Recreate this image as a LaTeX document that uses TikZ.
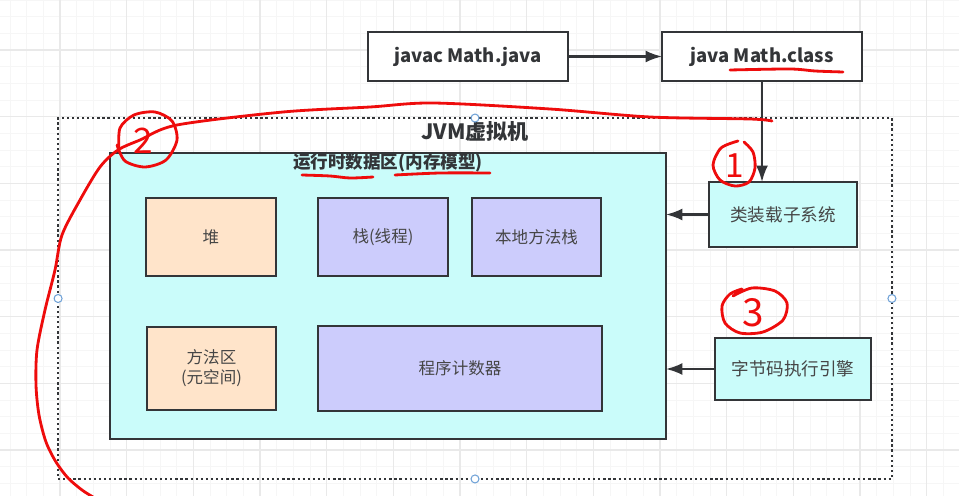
\documentclass[tikz,border=0pt]{standalone}
\usepackage{fontspec}
\setmainfont{Noto Sans CJK SC}
\usetikzlibrary{arrows.meta,calc}
\definecolor{Ink}{RGB}{51,53,56}
\definecolor{TextGray}{RGB}{70,70,70}
\definecolor{SoftCyan}{RGB}{202,252,250}
\definecolor{SoftPeach}{RGB}{255,228,202}
\definecolor{SoftLilac}{RGB}{204,204,252}
\definecolor{Marker}{RGB}{238,12,12}
\definecolor{GridMajor}{RGB}{233,233,233}
\definecolor{GridMinor}{RGB}{246,246,246}
\definecolor{Handle}{RGB}{112,162,215}
\tikzset{
  >=Latex,
  box/.style={draw=Ink,line width=1.1pt,inner sep=0pt,outer sep=0pt,align=center,text=TextGray,font=\fontsize{9.4}{11.5}\selectfont},
  cmd/.style={box,fill=white,text=Ink,font=\bfseries\fontsize{10.5}{12}\selectfont,minimum width=4cm,minimum height=.98cm},
  subsys/.style={box,fill=SoftCyan,font=\fontsize{10}{12}\selectfont},
  area/.style={box,fill=SoftCyan},
  shared/.style={box,fill=SoftPeach},
  private/.style={box,fill=SoftLilac},
  frame/.style={draw=Ink,line width=1.3pt,dash pattern=on 1.3pt off 1.6pt,inner sep=0pt,outer sep=0pt,minimum width=16.68cm,minimum height=7.22cm},
  heading/.style={font=\bfseries\fontsize{10}{12}\selectfont,text=Ink},
  handle/.style={circle,draw=Handle,fill=white,line width=.6pt,minimum size=.16cm,inner sep=0pt},
  link/.style={-{Latex[length=3.3mm,width=2.4mm]},line width=1.2pt,draw=Ink},
  scribble/.style={draw=Marker,line width=1.6pt,line cap=round,line join=round},
  scrawl/.style={text=Marker,inner sep=0pt,font=\fontsize{20}{20}\selectfont},
  gridminor/.style={draw=GridMinor,line width=.4pt},
  gridmajor/.style={draw=GridMajor,line width=.6pt}
}
\begin{document}
\begin{tikzpicture}[x=.02cm,y=-.02cm]
  \useasboundingbox (0,0) rectangle (959,496);
  \foreach \k in {0,...,57}{\draw[gridminor] ({10+\k*16.667},0)--({10+\k*16.667},496);}
  \foreach \k in {0,...,30}{\draw[gridminor] (0,{\k*16.667})--(959,{\k*16.667});}
  \foreach \k in {-1,...,13}{\draw[gridmajor] ({60+\k*66.667},0)--({60+\k*66.667},496);}
  \foreach \k in {-1,...,7}{\draw[gridmajor] (0,{50+\k*66.667})--(959,{50+\k*66.667});}

  \node[cmd] (javac) at (468,56.5) {javac Math.java};
  \node[cmd] (java) at (762,56.5) {java Math.class};
  \node[frame] (jvm) at (475,298.5) {};
  \node[heading,font=\bfseries\fontsize{12}{14}\selectfont] (jvmtitle) at (475,131) {JVM虚拟机};
  \node[area,minimum width=11.12cm,minimum height=5.72cm] (runtime) at (388,296) {};
  \node[heading] (rttitle) at (388,163) {运行时数据区(内存模型)};
  \node[shared,minimum width=2.6cm,minimum height=1.56cm] (heap) at (211,237) {堆};
  \node[private,minimum width=2.6cm,minimum height=1.56cm] (stack) at (383,237) {栈(线程)};
  \node[private,minimum width=2.58cm,minimum height=1.56cm] (native) at (536.5,237) {本地方法栈};
  \node[shared,minimum width=2.58cm,minimum height=1.66cm] (method) at (211.5,368.5) {方法区\\(元空间)};
  \node[private,minimum width=5.68cm,minimum height=1.7cm] (pc) at (460,368.5) {程序计数器};
  \node[subsys,minimum width=2.96cm,minimum height=1.3cm] (loader) at (783,214.5) {类装载子系统};
  \node[subsys,minimum width=3.12cm,minimum height=1.24cm] (engine) at (793,369) {字节码执行引擎};

  \draw[link] (javac.east)--(java.west);
  \draw[link] (java.south)--(java.south |- loader.north);
  \draw[link] (loader.west)--(loader.west -| runtime.east);
  \draw[link] (engine.west)--(engine.west -| runtime.east);

  \foreach \a in {north,south,east,west}{\node[handle] at (jvm.\a) {};}

  \draw[scribble] plot[smooth] coordinates {(730,70) (790,69) (815,71) (843,72)};
  \draw[scribble] plot[smooth] coordinates {(302,175) (330,176) (350,178) (373,177)};
  \draw[scribble] plot[smooth] coordinates {(395,175) (440,173) (490,173)};
  \draw[scribble] plot[smooth] coordinates {(772,121) (750,119) (650,117) (550,109) (433,103) (370,107) (283,112) (177,125) (140,140) (118,150) (100,167) (80,200) (62,235) (55,270) (45,310) (37,350) (36,385) (39,415) (46,442) (56,462) (68,478) (82,490) (93,497)};
  \draw[scribble] plot[smooth] coordinates {(119,150) (120,128) (134,115) (155,112) (172,121) (177,140) (166,160) (145,167) (125,161) (117,145)};
  \node[scrawl] (two) at (143,141) {2};
  \draw[scribble] plot[smooth] coordinates {(738,141) (721,148) (713,165) (720,180) (735,186) (749,182) (755,168) (753,152) (744,142)};
  \node[scrawl,font=\fontsize{19}{19}\selectfont] (one) at (735,166) {1};
  \draw[scribble] plot[smooth] coordinates {(733,296) (752,288) (775,291) (787,303) (783,320) (763,332) (740,333) (725,323) (722,306) (730,294) (742,289)};
  \node[scrawl,font=\fontsize{22}{22}\selectfont] (three) at (753,313) {3};
\end{tikzpicture}
\end{document}
